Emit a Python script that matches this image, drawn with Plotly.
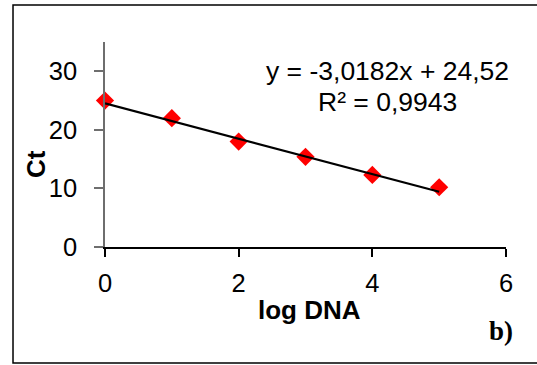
import plotly.graph_objects as go

# Data
log_dna = [0, 1, 2, 3, 4, 5]
ct = [25.0, 22.0, 18.0, 15.4, 12.3, 10.2]
slope = -3.0182
intercept = 24.52
r2 = 0.9943
eq_text = "y = -3,0182x + 24,52"
r2_text = "R² = 0,9943"
x_ticks = [0, 2, 4, 6]
y_ticks = [0, 10, 20, 30]

fit_x = [min(log_dna), max(log_dna)]
fit_y = [slope * v + intercept for v in fit_x]

fig = go.Figure()
fig.add_trace(go.Scatter(
    x=log_dna, y=ct, mode="markers",
    marker=dict(symbol="diamond", size=14, color="#FF0000", line=dict(width=0)),
    showlegend=False, cliponaxis=False))
fig.add_trace(go.Scatter(
    x=fit_x, y=fit_y, mode="lines",
    line=dict(color="#000000", width=2.2),
    showlegend=False, cliponaxis=False))

font_main = "Liberation Sans, Arial, sans-serif"

fig.update_layout(
    width=537, height=365,
    margin=dict(l=105, r=31, t=42, b=118),
    paper_bgcolor="white", plot_bgcolor="white",
    font=dict(family=font_main, size=25, color="#000000"),
    xaxis=dict(range=[0, 6], tickvals=x_ticks, showgrid=False, zeroline=False,
               showline=True, linecolor="#000000", linewidth=1.5,
               ticks="outside", ticklen=8, tickcolor="#000000", tickwidth=1.5,
               tickfont=dict(size=25.5, color="#000000"), ticklabelstandoff=5),
    yaxis=dict(range=[0, 35], tickvals=y_ticks, showgrid=False, zeroline=False,
               showline=True, linecolor="#6e6e6e", linewidth=1.5,
               ticks="outside", ticklen=9, tickcolor="#6e6e6e", tickwidth=1.5,
               tickfont=dict(size=25.5, color="#000000"), ticklabelstandoff=12),
)

# Outer frame (right edge runs past the window edge, as in the reference)
fig.add_shape(type="rect", xref="paper", yref="paper",
              x0=-0.2294, x1=1.0823, y0=-0.5659, y1=1.1805,
              line=dict(color="#000000", width=1.5), layer="below")

# Axis titles
fig.add_annotation(text="<b>log DNA</b>", xref="paper", yref="paper",
                   x=(309 - 105) / 401, y=(247 - 310) / 205,
                   showarrow=False, xanchor="center", yanchor="middle",
                   font=dict(size=26, color="#000000", family=font_main))
fig.add_annotation(text="<b>Ct</b>", xref="paper", yref="paper",
                   x=(36 - 105) / 401, y=(247 - 164) / 205, textangle=-90,
                   showarrow=False, xanchor="center", yanchor="middle",
                   font=dict(size=26, color="#000000", family=font_main))

# Equation labels
fig.add_annotation(text=eq_text, xref="paper", yref="paper",
                   x=(387.5 - 105) / 401, y=(247 - 71) / 205,
                   showarrow=False, xanchor="center", yanchor="middle",
                   font=dict(size=26.5, color="#000000", family=font_main))
fig.add_annotation(text=r2_text, xref="paper", yref="paper",
                   x=(387.5 - 105) / 401, y=(247 - 102) / 205,
                   showarrow=False, xanchor="center", yanchor="middle",
                   font=dict(size=26.5, color="#000000", family=font_main))

# Panel label
fig.add_annotation(text="<b>b)</b>", xref="paper", yref="paper",
                   x=(500.5 - 105) / 401, y=(247 - 331) / 205,
                   showarrow=False, xanchor="center", yanchor="middle",
                   font=dict(size=27, color="#000000",
                             family="Liberation Serif, Times New Roman, serif"))

fig.write_html("out.html",
               config={"displayModeBar": False},
               post_script="document.body.style.margin='0';document.body.style.overflow='hidden';")
